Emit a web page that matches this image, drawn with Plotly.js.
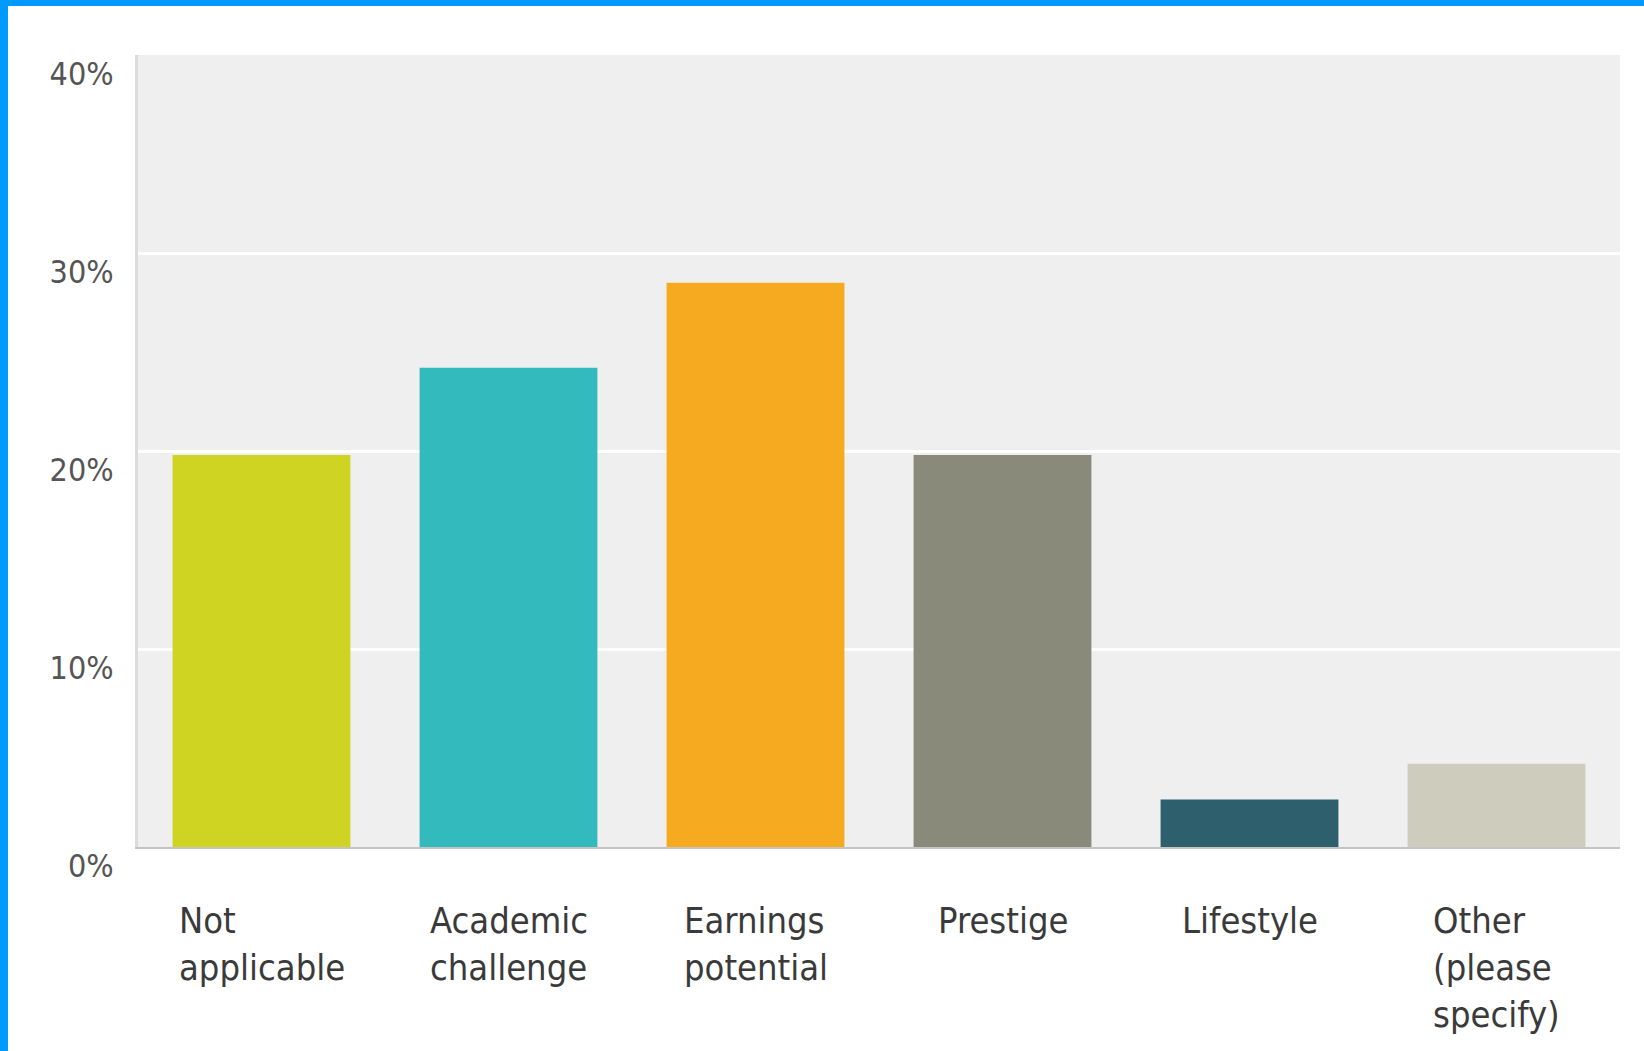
<!DOCTYPE html>
<html>
<head>
<meta charset="utf-8">
<script src="https://cdn.plot.ly/plotly-3.0.1.min.js"></script>
<style>
  html, body { margin: 0; padding: 0; background: #ffffff; overflow: hidden; }
  #chart { position: absolute; left: 0; top: 0; width: 1644px; height: 1051px; }
  #bTop { position: absolute; left: 0; top: 0; width: 1644px; height: 6px; background: #0099fe; }
  #bLeft { position: absolute; left: 0; top: 0; width: 8px; height: 1051px; background: #0099fe; }
</style>
</head>
<body>
<div id="chart"></div>
<div id="bTop"></div>
<div id="bLeft"></div>
<script>
const categories = ["Not applicable", "Academic challenge", "Earnings potential", "Prestige", "Lifestyle", "Other (please specify)"];
const labelLines = ["Not<br>applicable", "Academic<br>challenge", "Earnings<br>potential", "Prestige", "Lifestyle", "Other<br>(please<br>specify)"];
const percentValues = [19.8, 24.2, 28.5, 19.8, 2.4, 4.2];
const barColors = ["#cfd322", "#33babd", "#f5aa1f", "#898a79", "#2d5f6d", "#cdccbd"];
const yTickValues = [0, 10, 20, 30, 40];
const yTickLabels = ["0%", "10%", "20%", "30%", "40%"];

const fontFam = '"DejaVu Sans Condensed", "Liberation Sans Narrow", "Liberation Sans", sans-serif';

const annotations = categories.map((c, i) => ({
  x: c, xref: 'x',
  y: 0, yref: 'paper',
  yanchor: 'top', xanchor: 'center',
  align: 'left',
  yshift: -51,
  showarrow: false,
  text: labelLines[i],
  font: { family: fontFam, size: 36, color: '#3a3a3a' }
}));

const data = [{
  type: 'bar',
  x: categories,
  y: percentValues,
  marker: { color: barColors, line: { width: 0 } },
  hoverinfo: 'x+y'
}];

const layout = {
  width: 1644, height: 1051,
  margin: { l: 138, r: 24, t: 55, b: 204 },
  paper_bgcolor: '#ffffff',
  plot_bgcolor: '#efefef',
  bargap: 0.28,
  showlegend: false,
  font: { family: fontFam },
  xaxis: {
    type: 'category',
    showticklabels: false,
    showgrid: false,
    zeroline: false,
    showline: true,
    linecolor: '#c4c4c4',
    linewidth: 2,
    ticks: ''
  },
  yaxis: {
    range: [0, 40],
    tickvals: yTickValues,
    ticktext: yTickLabels,
    showgrid: true,
    gridcolor: '#ffffff',
    gridwidth: 3,
    zeroline: false,
    showline: true,
    linecolor: '#dcdcdc',
    linewidth: 3,
    ticks: '',
    ticklabelstandoff: 15,
    ticklabelshift: 19,
    tickfont: { family: fontFam, size: 32, color: '#555555' }
  },
  annotations: annotations
};

Plotly.newPlot('chart', data, layout, { displayModeBar: false, staticPlot: true });
</script>
</body>
</html>
